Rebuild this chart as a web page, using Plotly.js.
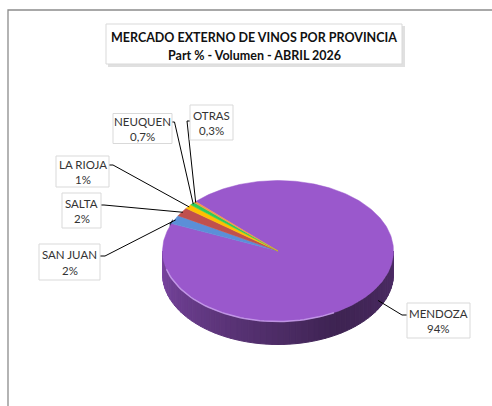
<!DOCTYPE html>
<html><head><meta charset="utf-8">
<script src="https://cdn.plot.ly/plotly-3.0.1.min.js"></script>
<style>html,body{margin:0;padding:0;background:#fff;overflow:hidden}</style>
</head><body><div id="chart" style="width:492px;height:406px"></div>
<script>
// ---- data ----
const categories = ['MENDOZA','SAN JUAN','SALTA','LA RIOJA','NEUQUEN','OTRAS'];
const values = [94, 2, 2, 1, 0.7, 0.3];
const valueLabels = ['94%','2%','2%','1%','0,7%','0,3%'];
const titleLines = ['MERCADO EXTERNO DE VINOS POR PROVINCIA','Part % - Volumen - ABRIL 2026'];

// ---- styles / layout constants ----
const colors = ['#9A58CC','#5B8FD8','#C0504D','#FFC000','#2ECC5A','#F79646'];
const CX=278, CY=251, RX=115.5, RY=70.5, DEPTH=23, START=135.5;
const boxes = [ // cx, cy, w, h, exitX, exitY, elbowX
  [438.5,320.5,63,35,407,315,402],
  [69.5,262,61,36,100,256,105],
  [81.5,210.5,39,35,101,205,104],
  [82.5,171.5,53,31,109,165,113],
  [142.5,128.5,59,30,172,122,174.5],
  [211.5,122.5,43,35,190,121,187]
];
const FONT = 'Lato, "Open Sans", sans-serif';

const total = values.reduce((a,b)=>a+b,0);
const rad = d=>d*Math.PI/180;
const rim = t=>[CX+RX*Math.cos(rad(t)), CY-RY*Math.sin(rad(t))];
function hexRgb(h){return [1,3,5].map(k=>parseInt(h.substr(k,2),16));}
function shade(h,f){const c=hexRgb(h).map(v=>Math.round(v*f));return `rgb(${c[0]},${c[1]},${c[2]})`;}

// slices clockwise (decreasing angle) from START
const slices=[]; let acc=START;
values.forEach((v,i)=>{const sw=v/total*360; slices.push({i,t0:acc-sw,t1:acc}); acc-=sw;});

const traces=[];
// chart-area frame (left and top edges)
traces.push({type:'scatter',mode:'lines',line:{color:'#8c8c8c',width:1.3},hoverinfo:'skip',
  x:[8,8,492],y:[406,10,10]});
// dark outer wall glimpse of first small slice at the left (perspective)
(function(){const s=slices[1];const xs=[],ys=[];
  for(let t=s.t1;t>=s.t1-4;t-=1){const p=rim(t);xs.push(p[0]-2);ys.push(p[1]);}
  const pEnd=rim(s.t1); xs.push(pEnd[0]-1); ys.push(pEnd[1]+20); xs.push(xs[0]); ys.push(ys[0]);
  traces.push({type:'scatter',mode:'lines',fill:'toself',fillcolor:shade(colors[1],0.4),line:{width:0},hoverinfo:'skip',x:xs,y:ys});})();
// side walls (visible where sin t < 0)
function wallFactor(t){let u=(((t%360)+360)%360-180)/180; if(u<0.67) return 0.8-0.6*u; return 0.4+0.3*(u-0.67);}
slices.forEach(s=>{
  [[-540,-360],[-180,0],[180,360]].forEach(([lo,hi])=>{
    const a0=Math.max(s.t0,lo), a1=Math.min(s.t1,hi);
    if(a1<=a0) return;
    const n=Math.max(1,Math.ceil((a1-a0)/3));
    for(let k=0;k<n;k++){
      const ta=a0+(a1-a0)*k/n, tb=a0+(a1-a0)*(k+1)/n;
      const p1=rim(ta), p2=rim(tb);
      const col=shade(colors[s.i], wallFactor((ta+tb)/2));
      traces.push({type:'scatter',mode:'lines',fill:'toself',fillcolor:col,
        line:{color:col,width:1},hoverinfo:'skip',
        x:[p1[0],p2[0],p2[0],p1[0],p1[0]], y:[p1[1],p2[1],p2[1]+DEPTH,p1[1]+DEPTH,p1[1]]});
    }
  });
});
// top faces
slices.forEach(s=>{
  const xs=[CX], ys=[CY];
  const n=Math.max(2,Math.ceil((s.t1-s.t0)/1));
  for(let k=0;k<=n;k++){const p=rim(s.t1-(s.t1-s.t0)*k/n); xs.push(p[0]); ys.push(p[1]);}
  xs.push(CX); ys.push(CY);
  traces.push({type:'scatter',mode:'lines',fill:'toself',fillcolor:colors[s.i],
    line:{color:colors[s.i],width:0.5},hoverinfo:'skip',x:xs,y:ys,name:categories[s.i]});
});
// front rim highlight
(function(){const xs=[],ys=[];for(let t=195;t<=300;t+=2){const p=rim(t);xs.push(p[0]);ys.push(p[1]);}
 traces.push({type:'scatter',mode:'lines',line:{color:'rgba(205,165,240,0.8)',width:1.5},x:xs,y:ys,hoverinfo:'skip'});})();

// leaders + labels
const annotations=[];
const shapes=[
  {type:'rect',xref:'x',yref:'y',x0:108,y0:26,x1:405,y1:67,fillcolor:'rgba(0,0,0,0.12)',line:{width:0},layer:'above'},
  {type:'rect',xref:'x',yref:'y',x0:106,y0:24,x1:402,y1:64,fillcolor:'#fff',line:{color:'#d9d9d9',width:1},layer:'above'}
];
slices.forEach(s=>{
  const b=boxes[s.i];
  const mid=(s.t0+s.t1)/2;
  let p=rim(mid);
  if(s.i===0){p=[p[0]+4,p[1]+DEPTH*0.45];} else {p=[CX+(p[0]-CX)*0.99, CY+(p[1]-CY)*0.99];}
  traces.push({type:'scatter',mode:'lines',line:{color:'#000',width:1},hoverinfo:'skip',
    x:[b[4],b[6],p[0]], y:[b[5],b[5],p[1]]});
  shapes.push({type:'rect',xref:'x',yref:'y',x0:b[0]-b[2]/2,x1:b[0]+b[2]/2,y0:b[1]-b[3]/2,y1:b[1]+b[3]/2,
    fillcolor:'#fff',line:{color:'#d9d9d9',width:1},layer:'above'});
  [categories[s.i],valueLabels[s.i]].forEach((txt,j)=>{
    annotations.push({x:b[0],y:b[1]+(j===0?-7.5:8),xref:'x',yref:'y',showarrow:false,text:txt,
      font:{family:FONT,size:11.5,color:'#333333'},xanchor:'center',yanchor:'middle'});
  });
});
titleLines.forEach((txt,j)=>{
  annotations.push({x:254,y:j===0?37.5:55.5,xref:'x',yref:'y',showarrow:false,
    text:'<b>'+txt+'</b>',font:{family:FONT,size:12.5,color:'#111111'},xanchor:'center',yanchor:'middle'});
});

const layout={width:492,height:406,margin:{l:0,r:0,t:0,b:0},showlegend:false,
  paper_bgcolor:'#fff',plot_bgcolor:'#fff',hovermode:false,
  xaxis:{range:[0,492],visible:false,fixedrange:true},
  yaxis:{range:[406,0],visible:false,fixedrange:true},
  shapes,annotations};
Plotly.newPlot('chart',traces,layout,{displayModeBar:false,staticPlot:true});
</script></body></html>
